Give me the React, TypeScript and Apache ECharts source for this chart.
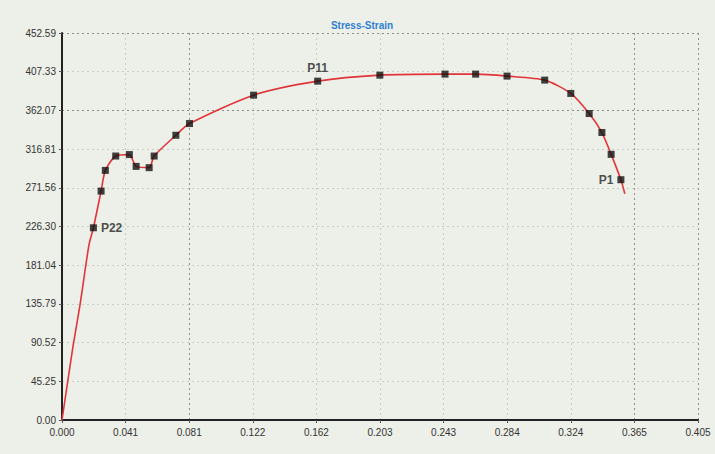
import React, { useEffect, useRef } from "react";
import * as echarts from "echarts";

// Marker points P1..P22 (strain, stress)
const pointNames = ["P1","P2","P3","P4","P5","P6","P7","P8","P9","P10","P11","P12","P13","P14","P15","P16","P17","P18","P19","P20","P21","P22"];
const markerStrain = [0.3559, 0.3497, 0.3438, 0.3357, 0.3240, 0.3074, 0.2834, 0.2634, 0.2439, 0.2024, 0.1628, 0.1220, 0.0812, 0.0725, 0.0587, 0.0555, 0.0472, 0.0429, 0.0342, 0.0276, 0.0249, 0.0200];
const markerStress = [281.0, 310.7, 336.2, 358.4, 381.9, 397.5, 402.2, 404.5, 404.5, 403.3, 396.3, 379.9, 346.7, 333.0, 308.7, 295.1, 296.6, 310.4, 308.7, 291.9, 267.7, 224.8];
const labeledPoints = ["P1", "P11", "P22"];

// Extra points of the continuous curve (elastic part and tail after P1)
const curveStrain = [0, 0.007, 0.0115, 0.0172, 0.3584];
const curveStress = [0, 86, 135, 205, 264.6];

// Axis ticks
const xTickLabels = ["0.000","0.041","0.081","0.122","0.162","0.203","0.243","0.284","0.324","0.365","0.405"];
const yTickLabels = ["0.00","45.25","90.52","135.79","181.04","226.30","271.56","316.81","362.07","407.33","452.59"];
const xMax = 0.405;
const yMax = 452.59;

export default function App() {
  const ref = useRef<HTMLDivElement>(null);
  useEffect(() => {
    if (!ref.current) return;
    const chart = echarts.init(ref.current, null, { renderer: "svg" });

    const curve: [number, number][] = [];
    markerStrain.forEach((x, i) => curve.push([x, markerStress[i]]));
    curveStrain.forEach((x, i) => curve.push([x, curveStress[i]]));
    curve.sort((a, b) => a[0] - b[0]);

    const labelPos: Record<string, string> = { P1: "left", P11: "top", P22: "right" };
    const markers = markerStrain.map((x, i) => {
      const name = pointNames[i];
      const show = labeledPoints.includes(name);
      return {
        value: [x, markerStress[i]],
        name,
        label: {
          show,
          position: labelPos[name] || "right",
          formatter: name,
          distance: 4,
          fontSize: 12,
          fontWeight: "bold",
          color: "#222",
          fontFamily: "Liberation Sans, Arial, sans-serif",
        },
      };
    });

    const xIdx = (v: number) => Math.round((v / xMax) * 10);
    const yIdx = (v: number) => Math.round((v / yMax) * 10);
    const light = "#c9cec4";
    const dark = "#8a8f88";
    const xSplitColors = xTickLabels.map((_, i) => (i === 2 || i === 9 || i === 10 ? dark : light));
    const ySplitColors = yTickLabels.map((_, i) => (i === 8 || i === 10 ? dark : light));

    chart.setOption({
      animation: false,
      backgroundColor: "#edf0e8",
      title: {
        text: "Stress-Strain",
        left: 357,
        textAlign: "center",
        top: 15,
        textStyle: { fontSize: 10, fontWeight: "bold", color: "#2f7fd2", fontFamily: "Liberation Sans, Arial, sans-serif" },
      },
      grid: { left: 62, right: 17, top: 33, bottom: 34 },
      xAxis: {
        type: "value",
        min: 0,
        max: xMax,
        interval: xMax / 10,
        axisLine: { show: true, lineStyle: { color: "#222", width: 2 } },
        axisTick: { show: true, length: 3, lineStyle: { color: "#555" } },
        axisLabel: {
          margin: 7,
          fontSize: 10,
          color: "#333",
          fontFamily: "Liberation Sans, Arial, sans-serif",
          formatter: (v: number) => xTickLabels[xIdx(v)] ?? "",
          showMaxLabel: true,
        },
        splitLine: { show: true, lineStyle: { color: xSplitColors, type: [2, 3], width: 1 } },
      },
      yAxis: {
        type: "value",
        min: 0,
        max: yMax,
        interval: yMax / 10,
        axisLine: { show: true, lineStyle: { color: "#222", width: 2 } },
        axisTick: { show: true, length: 3, lineStyle: { color: "#555" } },
        axisLabel: {
          margin: 6,
          fontSize: 10,
          color: "#333",
          fontFamily: "Liberation Sans, Arial, sans-serif",
          formatter: (v: number) => yTickLabels[yIdx(v)] ?? "",
          showMaxLabel: true,
        },
        splitLine: { show: true, lineStyle: { color: ySplitColors, type: [2, 3], width: 1 } },
      },
      series: [
        {
          type: "line",
          data: curve,
          smooth: 0.25,
          showSymbol: false,
          symbol: "none",
          lineStyle: { color: "#e0353a", width: 1.6 },
          z: 2,
        },
        {
          type: "scatter",
          data: markers,
          symbol: "rect",
          symbolSize: 7,
          itemStyle: { color: "#111" },
          z: 3,
        },
      ],
    });
    return () => chart.dispose();
  }, []);
  return <div ref={ref} style={{ width: 715, height: 454, position: "absolute", left: 0, top: 0 }} />;
}
